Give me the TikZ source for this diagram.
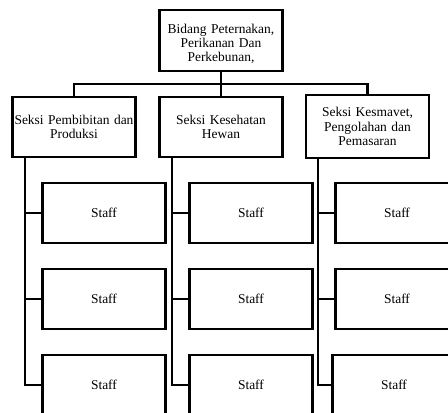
\documentclass[tikz,border=0pt]{standalone}
\usepackage{fontspec}
\setmainfont{Liberation Serif}
\begin{document}
\begin{tikzpicture}[x=0.75pt,y=-0.75pt,
  boxtext/.style={inner sep=0pt,text width=92pt,align=center,font=\fontsize{10.1}{10.6}\selectfont},
  box/.style={boxtext,draw,line width=1.9pt,minimum width=91.5pt,minimum height=45pt},
  conn/.style={line width=1.9pt}]
\useasboundingbox (0,0) rectangle (448,412);
% top
\node[box,minimum height=46pt] (top) at (221,40.5) {};
\node[boxtext] (toptext) at (221,43.5) {Bidang Peternakan,\\Perikanan Dan\\Perkebunan,};
% level 2
\node[box] (s1) at (74,127) {Seksi Pembibitan dan\\Produksi};
\node[box] (s2) at (221,127) {Seksi Kesehatan\\Hewan};
\node[box,minimum width=90.75pt,minimum height=47pt] (s3) at (367.5,126.5) {Seksi Kesmavet,\\Pengolahan dan\\Pemasaran};
% staff
\node[box] (a1) at (104,213) {Staff};
\node[box] (a2) at (104,299) {Staff};
\node[box] (a3) at (104,385) {Staff};
\node[box] (b1) at (251,213) {Staff};
\node[box] (b2) at (251,299) {Staff};
\node[box] (b3) at (251,385) {Staff};
\node[box] (c1) at (397,213) {Staff};
\node[box] (c2) at (397,299) {Staff};
\node[box] (c3) at (394,385) {Staff};
% connectors top
\coordinate (hb) at (221,84);
\draw[conn] (top.south) -- (hb);
\draw[conn] (s1.north) |- (hb) -| (s3.north);
\draw[conn] (hb) -- (s2.north);
% column connectors
\coordinate (v1) at (25,157);
\coordinate (v2) at (172,157);
\coordinate (v3) at (318,158);
\draw[conn] (v1) |- (a3.west);
\draw[conn] (v1 |- a1.west) -- (a1.west);
\draw[conn] (v1 |- a2.west) -- (a2.west);
\draw[conn] (v2) |- (b3.west);
\draw[conn] (v2 |- b1.west) -- (b1.west);
\draw[conn] (v2 |- b2.west) -- (b2.west);
\draw[conn] (v3) |- (c3.west);
\draw[conn] (v3 |- c1.west) -- (c1.west);
\draw[conn] (v3 |- c2.west) -- (c2.west);
\end{tikzpicture}
\end{document}
